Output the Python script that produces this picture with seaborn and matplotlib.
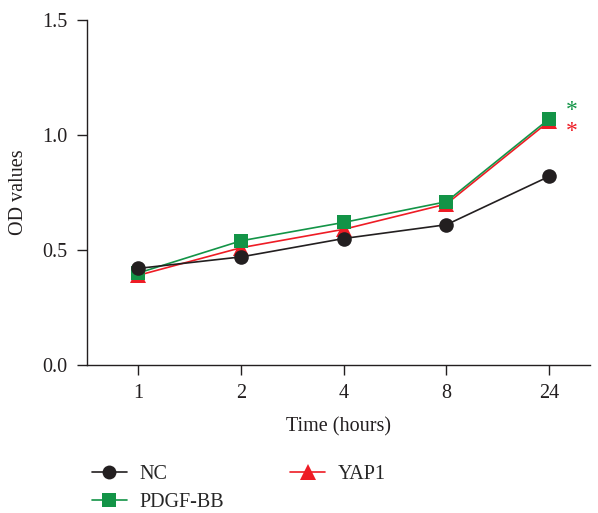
import matplotlib
matplotlib.use('Agg')
import matplotlib.pyplot as plt
import seaborn as sns
import pandas as pd
from matplotlib.lines import Line2D

# values
TIMES = ['1', '2', '4', '8', '24']
NC = [0.42, 0.47, 0.55, 0.61, 0.82]
PDGF_BB = [0.40, 0.54, 0.62, 0.71, 1.07]
YAP1 = [0.39, 0.51, 0.59, 0.70, 1.06]

BLACK = '#231f20'
GREEN = '#139447'
RED = '#ee1c25'

sns.set_theme(style='ticks')
plt.rcParams['font.family'] = ['Liberation Serif', 'DejaVu Serif']
plt.rcParams['axes.edgecolor'] = BLACK

df = pd.DataFrame({
    'time': TIMES * 3,
    'od': NC + PDGF_BB + YAP1,
    'group': ['NC'] * 5 + ['PDGF-BB'] * 5 + ['YAP1'] * 5,
})
df['pos'] = df.groupby('group').cumcount()

fig = plt.figure(figsize=(5.98, 5.13), dpi=100)
ax = fig.add_axes([0.1455, 0.2885, 0.8415, 0.6725])

# draw order: YAP1 bottom, PDGF-BB middle, NC top
styles = [('YAP1', RED, '^', 11), ('PDGF-BB', GREEN, 's', 10.5), ('NC', BLACK, 'o', 10.5)]
for name, col, mk, ms in styles:
    sub = df[df['group'] == name]
    sns.lineplot(data=sub, x='pos', y='od', ax=ax, color=col, marker=mk,
                 markersize=ms, markeredgewidth=0, linewidth=1.2, legend=False)

ax.text(4.22, 1.105, '*', color=GREEN, fontsize=17, ha='center', va='center')
ax.text(4.22, 1.015, '*', color=RED, fontsize=17, ha='center', va='center')

ax.set_xlim(-0.5, 4.4)
ax.set_ylim(0, 1.5)
ax.set_xticks(range(len(TIMES)))
ax.set_xticklabels(TIMES)
ax.set_yticks([0.0, 0.5, 1.0, 1.5])
ax.set_yticklabels(['0.0', '0.5', '1.0', '1.5'])
ax.tick_params(axis='both', length=7, width=1, colors=BLACK, labelsize=14.5, pad=7)
ax.set_xlabel('Time (hours)', fontsize=14.5, color=BLACK, labelpad=10)
ax.set_ylabel('OD values', fontsize=14.5, color=BLACK, labelpad=10)
sns.despine(ax=ax)
for sp in ['left', 'bottom']:
    ax.spines[sp].set_linewidth(1.0)

handles = [
    Line2D([], [], color=BLACK, marker='o', markersize=10, markeredgewidth=0, linewidth=1.2),
    Line2D([], [], color=GREEN, marker='s', markersize=10, markeredgewidth=0, linewidth=1.2),
    Line2D([], [], color=RED, marker='^', markersize=11, markeredgewidth=0, linewidth=1.2),
]
fig.legend(handles, ['NC', 'PDGF-BB', 'YAP1'], loc='upper left',
           bbox_to_anchor=(0.14, 0.109), ncol=2, frameon=False, fontsize=14.5,
           handlelength=1.75, columnspacing=3.3, labelspacing=0.45,
           handletextpad=0.6, borderaxespad=0)

fig.savefig('out.png', dpi=100)
